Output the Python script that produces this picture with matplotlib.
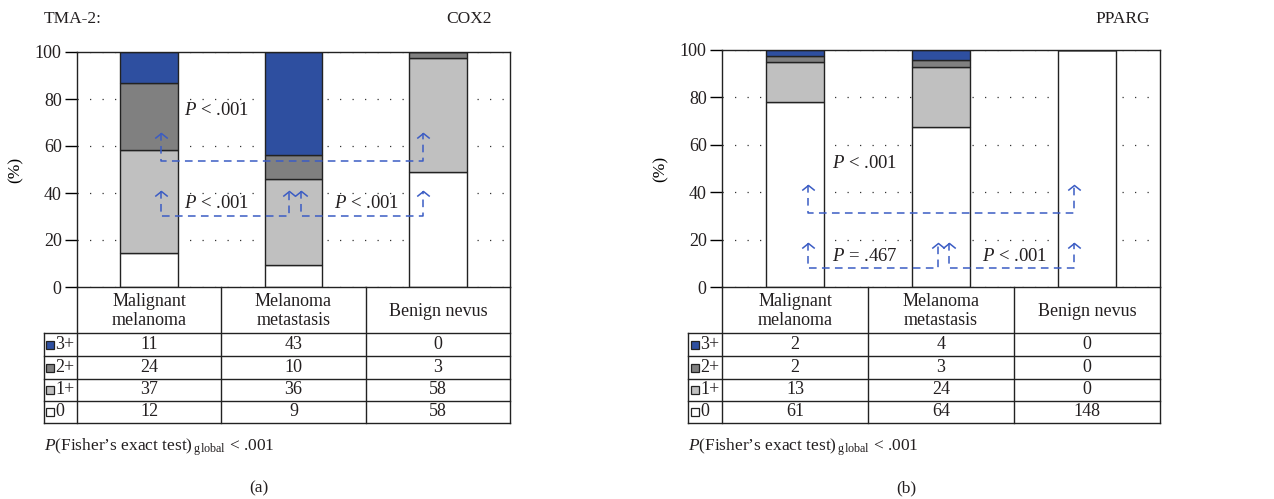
import numpy as np
import matplotlib
matplotlib.use("Agg")
import matplotlib.pyplot as plt
from matplotlib.transforms import blended_transform_factory

plt.rcParams['font.family'] = ['Liberation Serif', 'DejaVu Serif']
plt.rcParams['mathtext.fontset'] = 'custom'
plt.rcParams['mathtext.rm'] = 'Liberation Serif'
plt.rcParams['mathtext.it'] = 'Liberation Serif:italic'
plt.rcParams['text.color'] = '#231f20'

# data
groups = ["Malignant\nmelanoma", "Melanoma\nmetastasis", "Benign nevus"]
levels = ["3+", "2+", "1+", "0"]
cox2 = {"3+": [11, 43, 0], "2+": [24, 10, 3], "1+": [37, 36, 58], "0": [12, 9, 58]}
pparg = {"3+": [2, 4, 0], "2+": [2, 3, 0], "1+": [13, 24, 0], "0": [61, 64, 148]}
level_colors = {"3+": "#2e4fa0", "2+": "#808080", "1+": "#c0c0c0", "0": "#ffffff"}

# comparison brackets: (x_left, x_right, y_line, y_tip) and p-value labels
cox2_brackets = [(0.08, 1.9, 53.6, 65.5), (0.08, 0.97, 30.2, 41.0), (1.05, 1.9, 30.2, 41.0)]
cox2_labels = [(0.24, 74.9, "$P$ < .001"), (0.24, 35.7, "$P$ < .001"), (1.28, 35.7, "$P$ < .001")]
pparg_brackets = [(0.09, 1.91, 31.2, 43.0), (0.09, 0.98, 8.0, 18.6), (1.055, 1.91, 8.0, 18.6)]
pparg_labels = [(0.25, 51.9, "$P$ < .001"), (0.25, 13.0, "$P$ = .467"), (1.28, 13.0, "$P$ < .001")]

W, H = 1274, 499
fig = plt.figure(figsize=(W / 100, H / 100), dpi=100)

def fy(px):
    return 1 - px / H

def draw_panel(left_px, right_px, top_px, counts, brackets, labels, gene, gene_px, tag, show_tma):
    bottom_px = 287
    ax = fig.add_axes([left_px / W, fy(bottom_px), (right_px - left_px) / W, (bottom_px - top_px) / H])
    x = np.arange(len(groups))
    totals = np.sum([counts[l] for l in levels], axis=0)
    base = np.zeros(len(groups))
    for lev in ["0", "1+", "2+", "3+"]:
        pct = np.array(counts[lev]) / totals * 100
        ax.bar(x, pct, 0.4, bottom=base, color=level_colors[lev], edgecolor="#222222",
               linewidth=1.0, zorder=2)
        base += pct
    ax.set_xlim(-0.5, 2.5)
    ax.set_ylim(0, 100)
    ax.set_yticks([0, 20, 40, 60, 80, 100])
    ax.set_xticks([])
    ax.tick_params(axis="y", direction="out", length=9, width=1, labelsize=13, pad=2,
                   labelcolor="#231f20")
    ax.yaxis.grid(True, linestyle=(0, (1, 9)), color="#333333", linewidth=0.9)
    ax.set_axisbelow(True)
    for s in ax.spines.values():
        s.set_linewidth(1.0)
        s.set_color("#222222")
    ax.set_ylabel("(%)", fontsize=12.5, labelpad=8)

    blue = "#3b5cc4"
    for xl, xr, yl, yt in brackets:
        ax.plot([xl, xl, xr, xr], [yt, yl, yl, yt], color=blue, linestyle=(0, (5, 3.5)),
                linewidth=1.1, zorder=4)
        ax.plot([xl, xr], [yt, yt], linestyle="none", marker=[(-1, -0.8), (0, 0), (1, -0.8)],
                markersize=9, markerfacecolor="none", markeredgecolor=blue,
                markeredgewidth=1.1, zorder=4)
    for lx, ly, txt in labels:
        ax.text(lx, ly, txt, fontsize=13.5, ha="left", va="center", zorder=5)

    # table under the axis
    tr = blended_transform_factory(ax.transAxes, fig.transFigure)
    lab_x = -0.077
    rows_px = [333, 356, 379, 401, 423]
    lc = "#222222"
    for rp in rows_px:
        ax.plot([lab_x, 1], [fy(rp), fy(rp)], transform=tr, color=lc, lw=1.0, clip_on=False)
    for cx in [0, 1 / 3, 2 / 3, 1]:
        ax.plot([cx, cx], [fy(287), fy(423)], transform=tr, color=lc, lw=1.0, clip_on=False)
    ax.plot([lab_x, lab_x], [fy(333), fy(423)], transform=tr, color=lc, lw=1.0, clip_on=False)
    for i, g in enumerate(groups):
        ax.text((i + 0.5) / 3, fy(311), g, transform=tr, ha="center", va="center",
                fontsize=13, linespacing=1.1)
    for r, lev in enumerate(levels):
        yc = fy((rows_px[r] + rows_px[r + 1]) / 2)
        ax.plot([lab_x + 0.015], [yc], transform=tr, marker="s", markersize=5.5,
                markerfacecolor=level_colors[lev], markeredgecolor="#222222",
                markeredgewidth=0.9, clip_on=False)
        ax.text(lab_x + 0.027, yc, lev, transform=tr, ha="left", va="center", fontsize=13)
        for i in range(len(groups)):
            ax.text((i + 0.5) / 3, yc, str(counts[lev][i]), transform=tr, ha="center",
                    va="center", fontsize=13)
    ax.text(lab_x, fy(447), "$P$(Fisher’s exact test)$\\,_{\\mathrm{global}}$ < .001",
            transform=tr, ha="left", va="center", fontsize=12.5)
    ax.text(0.42, fy(488), tag, transform=tr, ha="center", va="center", fontsize=12.5)
    fig.text(gene_px / W, fy(19), gene, ha="right", va="center", fontsize=12.5)
    if show_tma:
        ax.text(lab_x, fy(19), "TMA-2:", transform=tr, ha="left", va="center", fontsize=12.5)
    return ax

draw_panel(77, 510, 52, cox2, cox2_brackets, cox2_labels, "COX2", 492, "(a)", True)
draw_panel(722, 1160, 50, pparg, pparg_brackets, pparg_labels, "PPARG", 1150, "(b)", False)

fig.savefig("out.png", dpi=100)
